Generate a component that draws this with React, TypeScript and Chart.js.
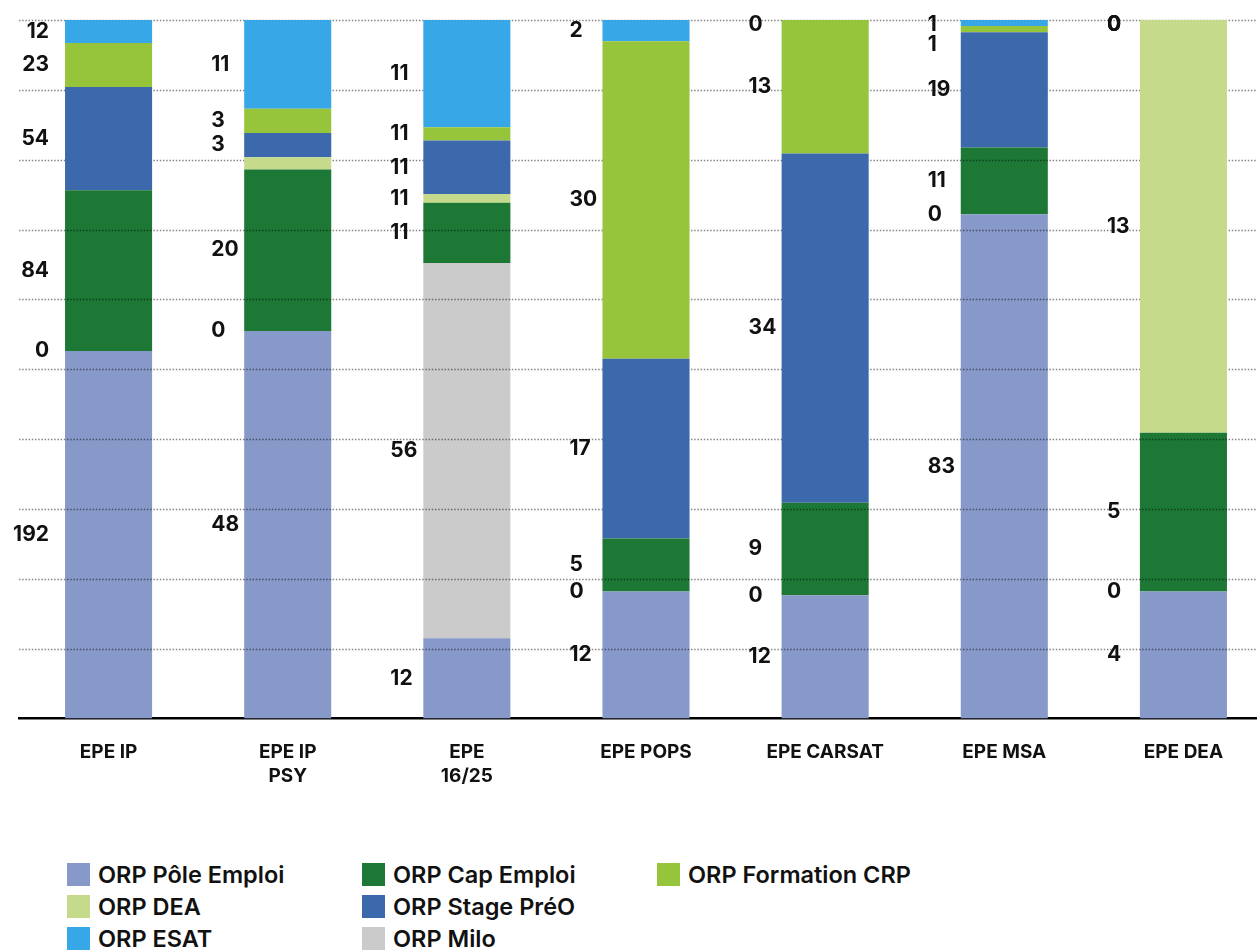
import React, { useEffect, useRef } from "react";
import { Chart, registerables } from "chart.js";

Chart.register(...registerables);

// ---------- data ----------
const categories: string[][] = [
  ["EPE IP"],
  ["EPE IP", "PSY"],
  ["EPE", "16/25"],
  ["EPE POPS"],
  ["EPE CARSAT"],
  ["EPE MSA"],
  ["EPE DEA"],
];

// segment sizes (stack order, bottom to top)
const poleEmploi = [192, 48, 12, 12, 12, 83, 4];
const milo = [0, 0, 56, 0, 0, 0, 0];
const capEmploi = [84, 20, 9, 5, 9, 11, 5];
const dea = [0, 1.5, 1.3, 0, 0, 0, 13];
const stagePreO = [54, 3, 8, 17, 34, 19, 0];
const formationCrp = [23, 3, 2, 30, 13, 1, 0];
const esat = [12, 11, 16, 2, 0, 1, 0];

// numbers printed next to each segment (null = not printed)
const poleEmploiLabels = [192, 48, 12, 12, 12, 83, 4];
const miloLabels = [0, 0, 56, 0, 0, 0, 0];
const capEmploiLabels = [84, 20, 11, 5, 9, 11, 5];
const deaLabels = [null, null, 11, null, null, null, 13];
const stagePreOLabels = [54, 3, 11, 17, 34, 19, 0];
const formationCrpLabels = [23, 3, 11, 30, 13, 1, 0];
const esatLabels = [12, 11, 11, 2, 0, 1, 0];

const yTickStep = 10;

// ---------- series definitions ----------
type Series = {
  name: string;
  values: number[];
  labels: (number | null)[];
  color: string;
  gridOver: boolean;
};

const series: Series[] = [
  { name: "ORP Pôle Emploi", values: poleEmploi, labels: poleEmploiLabels, color: "#8799C9", gridOver: true },
  { name: "ORP Milo", values: milo, labels: miloLabels, color: "#CBCBCB", gridOver: true },
  { name: "ORP Cap Emploi", values: capEmploi, labels: capEmploiLabels, color: "#1D7836", gridOver: true },
  { name: "ORP DEA", values: dea, labels: deaLabels, color: "#C5DA8B", gridOver: false },
  { name: "ORP Stage PréO", values: stagePreO, labels: stagePreOLabels, color: "#3C68AC", gridOver: false },
  { name: "ORP Formation CRP", values: formationCrp, labels: formationCrpLabels, color: "#96C43B", gridOver: false },
  { name: "ORP ESAT", values: esat, labels: esatLabels, color: "#38A7E8", gridOver: false },
];

// legend layout (rows)
const legendRows: string[][] = [
  ["ORP Pôle Emploi", "ORP Cap Emploi", "ORP Formation CRP"],
  ["ORP DEA", "ORP Stage PréO"],
  ["ORP ESAT", "ORP Milo"],
];

const FONT = "Inter, 'Noto Sans', sans-serif";

const totals = categories.map((_, i) => series.reduce((s, d) => s + d.values[i], 0));

function drawGrid(chart: any) {
  const { ctx, chartArea } = chart;
  const y = chart.scales.y;
  ctx.save();
  ctx.strokeStyle = "rgba(0,0,0,0.5)";
  ctx.lineWidth = 1.4;
  ctx.setLineDash([1.4, 1.8]);
  y.ticks.forEach((t: any) => {
    if (t.value <= 0) return;
    const py = Math.round(y.getPixelForValue(t.value)) + 0.5;
    ctx.beginPath();
    ctx.moveTo(chartArea.left, py);
    ctx.lineTo(chartArea.right, py);
    ctx.stroke();
  });
  ctx.restore();
}

const overlayPlugin = {
  id: "overlay",
  beforeDatasetsDraw(chart: any) {
    drawGrid(chart);
  },
  afterDatasetsDraw(chart: any) {
    const { ctx, chartArea } = chart;
    // grid shows through some series
    series.forEach((s, di) => {
      if (!s.gridOver) return;
      const meta = chart.getDatasetMeta(di);
      meta.data.forEach((bar: any) => {
        const p = bar.getProps(["x", "y", "base", "width"], true);
        const h = Math.abs(p.base - p.y);
        if (h <= 0) return;
        ctx.save();
        ctx.beginPath();
        ctx.rect(p.x - p.width / 2, Math.min(p.y, p.base), p.width, h);
        ctx.clip();
        drawGrid(chart);
        ctx.restore();
      });
    });

    // value labels to the left of the bars
    ctx.save();
    ctx.font = `700 21px ${FONT}`;
    ctx.fillStyle = "#111";
    ctx.textBaseline = "middle";
    categories.forEach((_, ci) => {
      const items: { y: number; text: string; left: number }[] = [];
      series.forEach((s, di) => {
        const lab = s.labels[ci];
        if (lab === null || lab === undefined) return;
        const bar: any = chart.getDatasetMeta(di).data[ci];
        const p = bar.getProps(["x", "y", "base", "width"], true);
        items.push({ y: (p.y + p.base) / 2, text: String(lab), left: p.x - p.width / 2 });
      });
      items.sort((a, b) => a.y - b.y);
      let prev = -Infinity;
      let prevNat = -Infinity;
      items.forEach((it) => {
        const nat = it.y;
        let yy = Math.max(nat, chartArea.top + 5);
        if (Math.abs(nat - prevNat) > 0.5 && yy < prev + 20) yy = prev + 20;
        if (Math.abs(nat - prevNat) <= 0.5) yy = prev;
        prevNat = nat;
        prev = yy;
        if (ci === 0) {
          ctx.textAlign = "right";
          ctx.fillText(it.text, it.left - 16, yy);
        } else {
          ctx.textAlign = "left";
          ctx.fillText(it.text, it.left - 33, yy);
        }
      });
    });
    ctx.restore();
  },
};

function ChartCanvas() {
  const ref = useRef<HTMLCanvasElement | null>(null);
  useEffect(() => {
    if (!ref.current) return;
    const chart = new Chart(ref.current, {
      type: "bar",
      data: {
        labels: categories,
        datasets: series.map((s) => ({
          label: s.name,
          data: s.values.map((v, i) => (v / totals[i]) * 100),
          backgroundColor: s.color,
          borderWidth: 0,
          barPercentage: 0.486,
          categoryPercentage: 1,
        })),
      },
      options: {
        responsive: false,
        animation: false,
        layout: { padding: { top: 20, left: 19, right: 0, bottom: 13 } },
        plugins: {
          legend: { display: false },
          tooltip: { enabled: false },
        },
        scales: {
          x: {
            stacked: true,
            grid: { display: false, drawTicks: false },
            border: { display: true, color: "#000", width: 2.5 },
            ticks: {
              color: "#111",
              padding: 22,
              font: { family: FONT, size: 19, weight: "700", lineHeight: 1.25 },
              maxRotation: 0,
              autoSkip: false,
            },
          },
          y: {
            stacked: true,
            display: false,
            min: 0,
            max: 100,
            ticks: { stepSize: yTickStep },
          },
        },
      },
      plugins: [overlayPlugin],
    });
    return () => chart.destroy();
  }, []);
  return <canvas ref={ref} width={1273} height={823} style={{ display: "block" }} />;
}

export default function App() {
  const byName: Record<string, Series> = {};
  series.forEach((s) => (byName[s.name] = s));
  return (
    <div
      style={{
        position: "fixed",
        left: 0,
        top: 0,
        width: 1257,
        height: 950,
        overflow: "hidden",
        background: "#fff",
      }}
    >
      <div style={{ position: "absolute", left: 0, top: 0, width: 1273, height: 823 }}>
        <ChartCanvas />
      </div>
      <div style={{ position: "absolute", left: 67, top: 858, fontFamily: FONT }}>
        {legendRows.map((row, ri) => (
          <div key={ri} style={{ display: "flex", height: 32 }}>
            {row.map((name) => (
              <div
                key={name}
                style={{ width: 295, display: "flex", alignItems: "center", height: 32 }}
              >
                <span
                  style={{
                    width: 23,
                    height: 23,
                    background: byName[name].color,
                    display: "inline-block",
                    marginRight: 8,
                    flex: "none",
                  }}
                />
                <span style={{ fontSize: 23.5, fontWeight: 600, color: "#111", whiteSpace: "nowrap" }}>
                  {name}
                </span>
              </div>
            ))}
          </div>
        ))}
      </div>
    </div>
  );
}
